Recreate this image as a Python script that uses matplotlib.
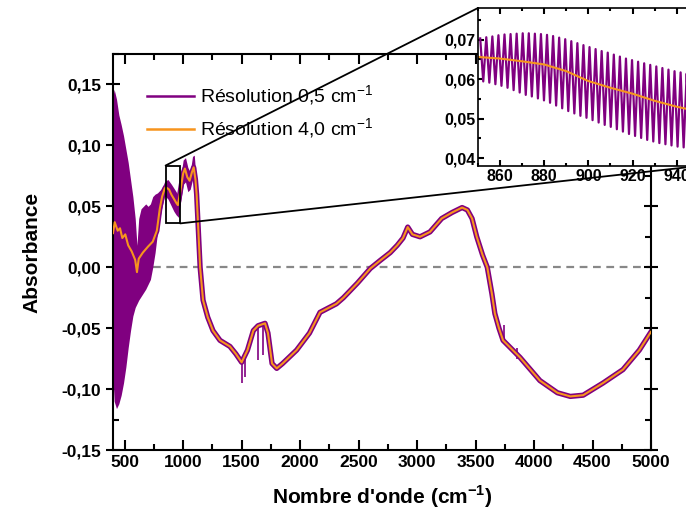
import numpy as np
import matplotlib
matplotlib.use('Agg')
import matplotlib.pyplot as plt
from matplotlib.ticker import MultipleLocator, FuncFormatter
from matplotlib.lines import Line2D
from matplotlib.patches import Rectangle, ConnectionPatch

plt.rcParams['font.family'] = ['Liberation Sans', 'DejaVu Sans']
plt.rcParams['mathtext.fontset'] = 'custom'
plt.rcParams['mathtext.rm'] = 'Liberation Sans'
plt.rcParams['mathtext.bf'] = 'Liberation Sans:bold'

# spectrum at 4,0 cm-1 resolution (wavenumber, absorbance)
wn_low = [400, 415, 440, 460, 480, 505, 530, 560, 590, 605, 620, 655, 700, 740, 775,
          800, 820, 840, 850, 870, 880, 900, 920, 940, 955, 975, 1000, 1015, 1035, 1055,
          1075, 1090, 1105, 1115, 1130, 1145, 1170, 1210, 1255, 1315, 1400, 1450, 1500,
          1550, 1600, 1640, 1700, 1725, 1760, 1800, 1850, 1970, 2080, 2170, 2310, 2370,
          2490, 2600, 2690, 2770, 2830, 2880, 2920, 2960, 3025, 3110, 3210, 3300, 3385,
          3430, 3470, 3510, 3560, 3600, 3640, 3665, 3700, 3735, 3880, 4050, 4200, 4310,
          4420, 4590, 4760, 4900, 5000]
abs_low = [0.028, 0.037, 0.030, 0.032, 0.024, 0.027, 0.018, 0.013, 0.006, -0.004, 0.007,
           0.012, 0.017, 0.021, 0.030, 0.048, 0.058, 0.064, 0.0656, 0.0645, 0.0637, 0.0595,
           0.0563, 0.0530, 0.051, 0.062, 0.077, 0.081, 0.074, 0.071, 0.078, 0.082, 0.072,
           0.060, 0.030, 0.000, -0.027, -0.041, -0.052, -0.060, -0.065, -0.071, -0.078,
           -0.068, -0.052, -0.048, -0.046, -0.054, -0.079, -0.083, -0.079, -0.068, -0.054,
           -0.037, -0.030, -0.025, -0.013, -0.001, 0.006, 0.012, 0.018, 0.024, 0.033, 0.027,
           0.025, 0.029, 0.040, 0.045, 0.049, 0.047, 0.040, 0.025, 0.010, 0.000, -0.022,
           -0.038, -0.050, -0.060, -0.074, -0.093, -0.103, -0.106, -0.105, -0.095, -0.084,
           -0.068, -0.053]

# 0,5 cm-1 spectrum: envelope of the fringes in the noisy low wavenumber part
wn_env = [400, 410, 430, 450, 470, 490, 510, 530, 550, 570, 590, 605, 620, 640, 660, 680,
          700, 720, 740, 760, 780, 800, 820, 840, 850, 870, 900, 920, 940, 960, 980, 1000,
          1020, 1040, 1060, 1080, 1095, 1105]
env_hi = [0.140, 0.146, 0.138, 0.125, 0.117, 0.108, 0.097, 0.086, 0.072, 0.058, 0.040,
          0.018, 0.040, 0.048, 0.050, 0.052, 0.050, 0.052, 0.058, 0.060, 0.061, 0.063,
          0.065, 0.070, 0.071, 0.072, 0.068, 0.065, 0.062, 0.058, 0.075, 0.088, 0.090,
          0.082, 0.078, 0.091, 0.092, 0.080]
env_lo = [-0.090, -0.110, -0.116, -0.112, -0.105, -0.095, -0.082, -0.066, -0.052, -0.040,
          -0.033, -0.030, -0.027, -0.024, -0.021, -0.018, -0.014, -0.010, 0.000, 0.012,
          0.028, 0.040, 0.050, 0.058, 0.058, 0.056, 0.050, 0.046, 0.043, 0.041, 0.055,
          0.068, 0.070, 0.062, 0.064, 0.072, 0.070, 0.066]

# isolated spikes of the 0,5 cm-1 spectrum
spike_wn = [1505, 1530, 1640, 1683, 3743, 3854]
spike_lo = [-0.095, -0.090, -0.076, -0.072, -0.060, -0.075]
spike_hi = [-0.078, -0.072, -0.048, -0.047, -0.047, -0.066]

# zoomed window 850-950 cm-1
peak_wn = [851.0, 853.75, 856.5, 859.25, 862.0, 864.75, 867.5, 870.25, 873.0, 875.75,
           878.5, 881.25, 884.0, 886.75, 889.5, 892.25, 895.0, 897.75, 900.5, 903.25,
           906.0, 908.75, 911.5, 914.25, 917.0, 919.75, 922.5, 925.25, 928.0, 930.75,
           933.5, 936.25, 939.0, 941.75, 944.5, 947.25]
peak_val = [0.0703, 0.0706, 0.0708, 0.0711, 0.0713, 0.0714, 0.0715, 0.0716, 0.0716, 0.0715,
            0.0714, 0.0712, 0.0709, 0.0705, 0.0701, 0.0696, 0.0691, 0.0686, 0.0681, 0.0676,
            0.0671, 0.0667, 0.0662, 0.0657, 0.0652, 0.0648, 0.0644, 0.0640, 0.0636, 0.0632,
            0.0628, 0.0624, 0.0620, 0.0617, 0.0614, 0.0611]
trough_val = [0.0594, 0.0591, 0.0587, 0.0583, 0.0578, 0.0572, 0.0566, 0.0560, 0.0556, 0.0551,
              0.0546, 0.0540, 0.0533, 0.0526, 0.0519, 0.0513, 0.0507, 0.0502, 0.0496, 0.0490,
              0.0484, 0.0479, 0.0473, 0.0467, 0.0461, 0.0456, 0.0451, 0.0446, 0.0442, 0.0438,
              0.0435, 0.0432, 0.0429, 0.0427, 0.0425, 0.0423]
zoom_wn = [850, 860, 870, 880, 890, 900, 910, 920, 930, 940, 950]
zoom_low = [0.0656, 0.0652, 0.0645, 0.0637, 0.0620, 0.0595, 0.0578, 0.0563, 0.0545, 0.0530, 0.0518]

purple = '#800080'
orange = '#f7941d'


def comma(v, pos):
    return ('%.2f' % (round(v, 4) + 0.0)).replace('.', ',')


def style_axes(ax, size):
    for s in ax.spines.values():
        s.set_linewidth(1.5)
    ax.tick_params(which='both', direction='in', top=True, right=True, width=1.5)
    ax.tick_params(which='major', length=7, labelsize=size)
    ax.tick_params(which='minor', length=4)
    for lab in ax.get_xticklabels() + ax.get_yticklabels():
        lab.set_fontweight('bold')


fig = plt.figure(figsize=(6.86, 5.19), dpi=100)
ax = fig.add_axes([0.1647, 0.1329, 0.7843, 0.7630])

ax.fill_between(wn_env, env_lo, env_hi, color=purple, lw=0, zorder=2)
ax.plot(wn_low, abs_low, color=purple, lw=3.8, zorder=2, solid_joinstyle='round')
ax.vlines(spike_wn, spike_lo, spike_hi, color=purple, lw=1.2, zorder=2)
ax.plot(wn_low, abs_low, color=orange, lw=1.5, zorder=3)
ax.axhline(0, color='#888888', lw=1.6, dashes=(3.5, 2.5), zorder=1)

ax.set_xlim(400, 5000)
ax.set_ylim(-0.15, 0.175)
ax.xaxis.set_major_locator(MultipleLocator(500))
ax.xaxis.set_minor_locator(MultipleLocator(250))
ax.yaxis.set_major_locator(MultipleLocator(0.05))
ax.yaxis.set_minor_locator(MultipleLocator(0.025))
ax.yaxis.set_major_formatter(FuncFormatter(comma))
style_axes(ax, 12.5)
ax.tick_params(axis='y', which='major', direction='inout', length=10)

ax.set_xlabel("Nombre d'onde (cm$^{\\mathbf{-1}}$)", fontsize=15, fontweight='bold', labelpad=10)
ax.set_ylabel('Absorbance', fontsize=15, fontweight='bold', labelpad=14)

handles = [Line2D([], [], color=purple, lw=1.8), Line2D([], [], color=orange, lw=1.8)]
ax.legend(handles, ['Résolution 0,5 cm$^{-1}$', 'Résolution 4,0 cm$^{-1}$'],
          loc='upper left', bbox_to_anchor=(0.045, 0.95), frameon=False, fontsize=14,
          handlelength=2.4, handletextpad=0.35, labelspacing=0.45, borderpad=0)

ax.add_patch(Rectangle((850, 0.036), 125, 0.0475, fill=False, ec='black', lw=1.3, zorder=4))

# inset
axi = fig.add_axes([0.6968, 0.6802, 0.3219, 0.3044], zorder=5)
axi.set_facecolor('white')
zz_wn = []
zz_val = []
for i in range(len(peak_wn)):
    zz_wn += [peak_wn[i], peak_wn[i] + 1.375]
    zz_val += [peak_val[i], trough_val[i]]
axi.plot(zz_wn, zz_val, color=purple, lw=1.6)
axi.plot(zoom_wn, zoom_low, color=orange, lw=1.5)
axi.set_xlim(850, 950)
axi.set_ylim(0.038, 0.078)
axi.xaxis.set_major_locator(MultipleLocator(20))
axi.xaxis.set_minor_locator(MultipleLocator(10))
axi.yaxis.set_major_locator(MultipleLocator(0.01))
axi.yaxis.set_minor_locator(MultipleLocator(0.005))
axi.yaxis.set_major_formatter(FuncFormatter(comma))
style_axes(axi, 11.5)
for s in axi.spines.values():
    s.set_linewidth(1.2)
axi.tick_params(which='major', length=4, pad=2)
axi.tick_params(which='minor', length=2)

for xy_main, xy_in in [((850, 0.0835), (0, 1)), ((975, 0.036), (1, 0))]:
    con = ConnectionPatch(xyA=xy_main, coordsA=ax.transData, xyB=xy_in,
                          coordsB=axi.transAxes, color='black', lw=1.3, zorder=10)
    fig.add_artist(con)

fig.savefig('out.png', dpi=100)
